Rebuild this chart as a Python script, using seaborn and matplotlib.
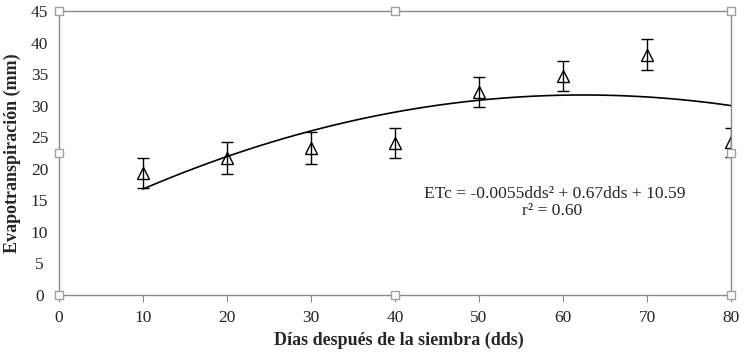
import numpy as np
import pandas as pd
import seaborn as sns
import matplotlib.pyplot as plt

# days after sowing and evapotranspiration (mean, sd)
dds = [10, 20, 30, 40, 50, 60, 70, 80]
etc_mean = [19.3, 21.7, 23.3, 24.1, 32.2, 34.7, 38.1, 24.2]
etc_sd = [2.4, 2.5, 2.5, 2.4, 2.4, 2.3, 2.4, 2.3]

eq_text = "ETc = -0.0055dds\u00b2 + 0.67dds + 10.59"
r2_text = "r\u00b2 = 0.60"

df = pd.DataFrame({"dds": dds, "etc": etc_mean, "sd": etc_sd})

sns.set_style("white")
plt.rcParams["font.family"] = ["Liberation Serif", "DejaVu Serif"]

fig = plt.figure(figsize=(7.51, 3.57), dpi=100, facecolor="white")
ax = fig.add_axes([0.0786, 0.1737, 0.8948, 0.7955])

# quadratic trend line fitted by seaborn
sns.regplot(data=df, x="dds", y="etc", order=2, ci=None, scatter=False,
            line_kws={"color": "black", "lw": 1.2}, ax=ax)

# points with error bars
ax.errorbar(df["dds"], df["etc"], yerr=df["sd"], fmt="^", ms=9,
            mfc="none", mec="black", mew=1.0, ecolor="black",
            elinewidth=1.0, capsize=4, capthick=1.0)

ax.set_xlim(0, 80)
ax.set_ylim(0, 45)
ax.set_xticks(range(0, 81, 10))
ax.set_yticks(range(0, 46, 5))
ax.tick_params(axis="x", direction="out", length=5, color="#868686",
               labelsize=12.5, pad=6)
ax.tick_params(axis="y", length=0, labelsize=12.5, pad=14)
for lab in ax.get_yticklabels():
    lab.set_horizontalalignment("center")
ax.xaxis.set_ticks_position("bottom")

for s in ax.spines.values():
    s.set_visible(True)
    s.set_color("#8a8a8a")
    s.set_linewidth(1.0)

ax.set_xlabel("Días después de la siembra (dds)", fontsize=13,
              fontweight="bold")
ax.set_ylabel("Evapotranspiración (mm)", fontsize=13, fontweight="bold")
ax.xaxis.set_label_coords(0.506, -0.128)
ax.yaxis.set_label_coords(-0.056, 0.5)

ax.text(0.737, 0.357, eq_text, transform=ax.transAxes, ha="center",
        va="center", fontsize=12.6)
ax.text(0.734, 0.294, r2_text, transform=ax.transAxes, ha="center",
        va="center", fontsize=12.6)

# selection handles around the plot area
hx = [0, 0.5, 1, 0, 1, 0, 0.5, 1]
hy = [1, 1, 1, 0.5, 0.5, 0, 0, 0]
ax.plot(hx, hy, ls="none", marker="s", ms=5.5, mfc="white", mec="#a0a0a0",
        mew=1.0, transform=ax.transAxes, clip_on=False, zorder=5)

fig.savefig("out.png", dpi=100, facecolor="white")
